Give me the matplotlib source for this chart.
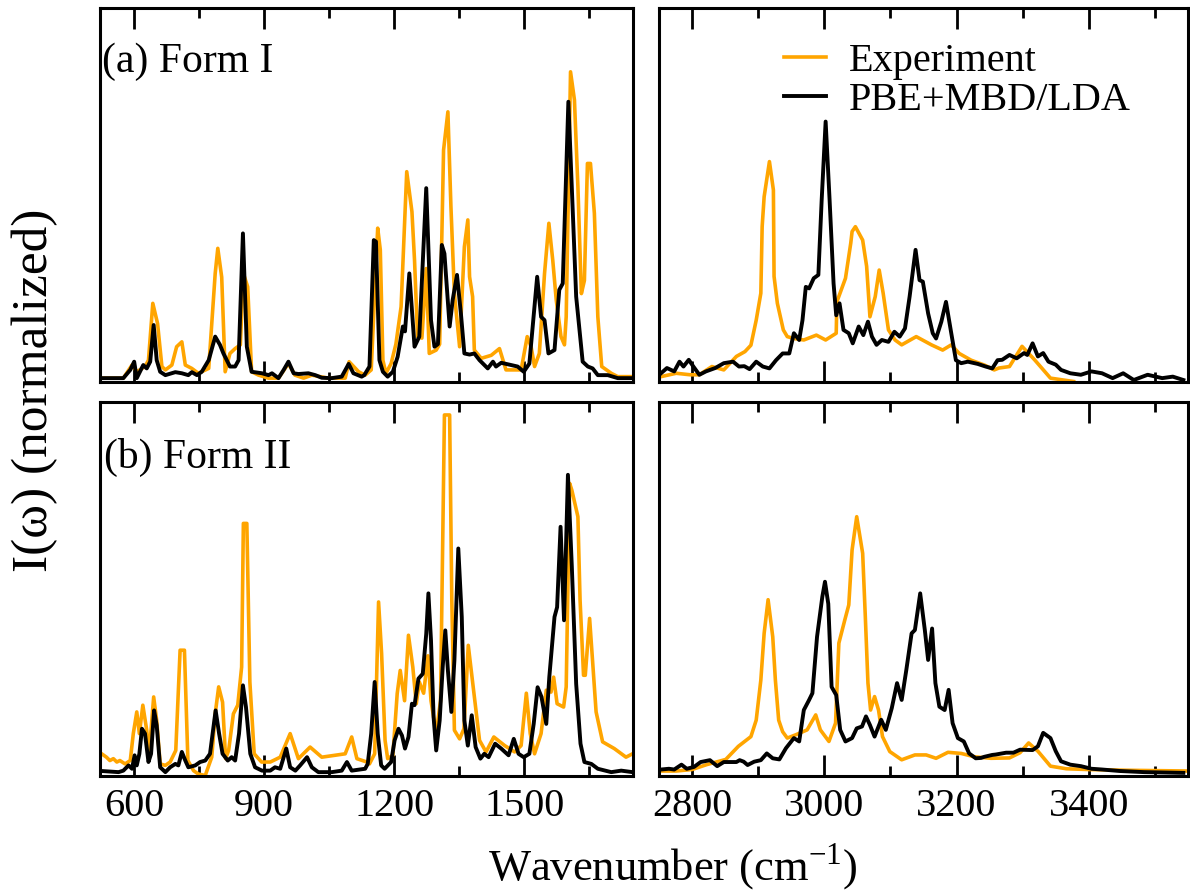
import matplotlib
matplotlib.use("Agg")
import matplotlib.pyplot as plt

plt.rcParams["font.family"] = ["Liberation Serif", "DejaVu Serif"]
plt.rcParams["mathtext.fontset"] = "custom"
plt.rcParams["mathtext.rm"] = "Liberation Serif"

ORANGE = "#FFA500"

# ---- (a) Form I, fingerprint region ----
a_lo_exp_wn = [525, 575, 595, 606, 625, 633, 643, 654, 664, 672, 687, 698, 710, 718, 733, 748, 772, 787, 793, 802,
               810, 821, 833, 845, 852, 862, 871, 887, 910, 933, 956, 971, 991, 1010, 1048, 1087, 1096, 1118, 1133, 1147,
               1162, 1168, 1174, 1181, 1193, 1204, 1216, 1229, 1241, 1247, 1254, 1264, 1274, 1281, 1297, 1305, 1314, 1324, 1331, 1339,
               1351, 1362, 1370, 1374, 1381, 1385, 1401, 1424, 1443, 1458, 1493, 1507, 1516, 1524, 1535, 1547, 1557, 1566, 1574, 1585,
               1593, 1597, 1607, 1616, 1624, 1632, 1639, 1646, 1653, 1662, 1670, 1679, 1701, 1716, 1747]
a_lo_exp = [.009, .009, .044, .026, .04, .057, .209, .155, .04, .031, .044, .093, .106, .044, .035, .022, .035, .289, .356, .279,
            .026, .075, .088, .098, .289, .253, .026, .017, .009, .009, .048, .017, .009, .017, .009, .009, .053, .026, .017, .031,
            .41, .352, .057, .022, .048, .10, .2, .561, .454, .324, .12, .116, .302, .075, .084, .10, .619, .721, .467, .235,
            .093, .36, .432, .28, .227, .084, .062, .07, .088, .031, .031, .12, .093, .04, .075, .289, .423, .324, .218, .12,
            .098, .173, .828, .753, .521, .235, .27, .583, .583, .45, .173, .04, .022, .013, .013]

a_lo_calc_wn = [521, 575, 591, 600, 606, 621, 629, 637, 645, 652, 660, 672, 695, 710, 725, 733, 745, 756, 772, 787,
                798, 806, 821, 833, 841, 851, 860, 871, 883, 895, 910, 918, 933, 945, 956, 968, 979, 1002, 1018, 1033,
                1056, 1079, 1095, 1106, 1125, 1131, 1143, 1153, 1158, 1166, 1174, 1185, 1197, 1208, 1220, 1225, 1235, 1247, 1258, 1274,
                1285, 1293, 1301, 1310, 1316, 1328, 1335, 1345, 1354, 1362, 1374, 1385, 1397, 1416, 1428, 1435, 1447, 1470, 1485, 1499,
                1512, 1530, 1539, 1547, 1556, 1570, 1581, 1589, 1602, 1612, 1620, 1635, 1647, 1658, 1670, 1693, 1716, 1747]
a_lo_calc = [.009, .009, .031, .053, .009, .044, .035, .053, .151, .057, .026, .017, .025, .022, .017, .025, .017, .026, .057, .12,
             .098, .075, .04, .04, .057, .396, .093, .026, .024, .022, .017, .022, .009, .031, .053, .022, .020, .022, .017, .010,
             .009, .013, .047, .022, .013, .017, .04, .378, .374, .057, .026, .013, .026, .066, .147, .134, .289, .093, .12, .517,
             .164, .093, .10, .365, .342, .147, .218, .285, .182, .075, .072, .075, .057, .035, .053, .04, .05, .044, .04, .026,
             .048, .28, .173, .164, .075, .084, .245, .262, .748, .459, .227, .053, .04, .035, .017, .017, .009, .009]

# ---- (a) Form I, C-H stretch region ----
a_hi_exp_wn = [2753, 2776, 2797, 2811, 2830, 2848, 2867, 2880, 2889, 2897, 2904, 2906, 2909, 2917, 2923, 2924, 2929, 2938, 2944, 2954,
               2969, 2988, 3002, 3018, 3019, 3032, 3040, 3042, 3047, 3058, 3064, 3069, 3077, 3083, 3089, 3097, 3107, 3117, 3139, 3162,
               3179, 3192, 3204, 3222, 3242, 3257, 3264, 3280, 3299, 3318, 3342, 3377]
a_hi_exp = [.013, .022, .018, .018, .04, .031, .067, .08, .097, .164, .236, .414, .494, .588, .512, .281, .209, .138, .12, .115,
            .111, .124, .111, .129, .213, .276, .37, .401, .414, .378, .308, .173, .227, .298, .236, .138, .111, .098, .12, .098,
            .084, .098, .075, .057, .044, .031, .036, .04, .094, .058, .009, .0]

a_hi_calc_wn = [2753, 2762, 2773, 2781, 2787, 2795, 2802, 2811, 2821, 2835, 2848, 2862, 2871, 2879, 2887, 2897, 2907, 2917, 2927, 2937,
                2947, 2954, 2962, 2967, 2972, 2977, 2984, 2991, 2996, 3002, 3008, 3014, 3018, 3023, 3029, 3037, 3043, 3052, 3059, 3066,
                3072, 3079, 3087, 3097, 3106, 3114, 3122, 3129, 3138, 3144, 3149, 3157, 3164, 3169, 3177, 3184, 3192, 3199, 3207, 3217,
                3232, 3244, 3254, 3262, 3269, 3280, 3291, 3302, 3307, 3315, 3323, 3331, 3339, 3350, 3358, 3372, 3388, 3404, 3420, 3436,
                3452, 3468, 3489, 3511, 3527, 3543]
a_hi_calc = [.022, .036, .027, .053, .04, .058, .04, .018, .027, .036, .049, .053, .04, .041, .033, .053, .04, .035, .057, .075,
             .075, .129, .111, .164, .253, .249, .276, .285, .485, .695, .485, .262, .177, .209, .138, .129, .102, .147, .124, .16,
             .12, .098, .111, .106, .133, .12, .142, .227, .352, .271, .267, .182, .129, .115, .16, .213, .129, .057, .049, .053,
             .047, .04, .035, .057, .058, .071, .062, .076, .071, .102, .067, .076, .053, .045, .031, .022, .018, .027, .022, .009,
             .022, .004, .018, .009, .013, .004]

# ---- (b) Form II, fingerprint region ----
b_lo_exp_wn = [525, 536, 544, 552, 560, 567, 579, 591, 598, 606, 612, 620, 629, 634, 645, 652, 660, 672, 683, 696,
               706, 716, 724, 737, 748, 764, 779, 787, 795, 804, 811, 818, 829, 839, 848, 852, 860, 867, 877, 894,
               914, 937, 960, 979, 1006, 1033, 1087, 1102, 1114, 1137, 1143, 1155, 1164, 1171, 1179, 1185, 1197, 1207, 1214, 1224,
               1233, 1243, 1251, 1258, 1268, 1278, 1285, 1297, 1307, 1316, 1328, 1333, 1339, 1351, 1361, 1371, 1381, 1397, 1412, 1430,
               1455, 1478, 1493, 1505, 1514, 1524, 1539, 1551, 1562, 1568, 1576, 1591, 1597, 1605, 1610, 1624, 1629, 1637, 1641, 1651,
               1658, 1666, 1681, 1708, 1735, 1750]
b_lo_exp = [.058, .049, .04, .045, .036, .04, .031, .04, .112, .17, .112, .188, .121, .049, .21, .147, .031, .027, .036, .067,
            .335, .335, .04, .013, .004, .0, .049, .165, .237, .196, .045, .067, .165, .188, .29, .674, .674, .25, .058, .036,
            .036, .049, .112, .045, .076, .049, .058, .103, .045, .036, .031, .058, .464, .326, .094, .045, .054, .219, .281, .2,
            .375, .29, .192, .25, .22, .32, .2, .112, .2, .964, .964, .469, .121, .098, .125, .348, .25, .094, .063, .103,
            .08, .063, .08, .22, .112, .058, .112, .228, .223, .263, .192, .183, .237, .781, .763, .692, .469, .268, .268, .42,
            .304, .17, .09, .072, .049, .058]

b_lo_calc_wn = [525, 564, 575, 587, 595, 601, 606, 612, 618, 625, 633, 639, 646, 652, 660, 672, 683, 695, 702, 710,
                718, 725, 741, 752, 764, 775, 788, 796, 804, 816, 825, 833, 842, 851, 858, 868, 879, 895, 914, 925,
                937, 951, 960, 972, 983, 999, 1010, 1025, 1056, 1079, 1091, 1102, 1133, 1139, 1147, 1155, 1162, 1170, 1178, 1193,
                1201, 1210, 1218, 1225, 1233, 1241, 1247, 1256, 1266, 1274, 1279, 1285, 1291, 1297, 1305, 1312, 1318, 1324, 1332, 1339,
                1348, 1356, 1362, 1370, 1379, 1388, 1399, 1408, 1418, 1433, 1447, 1464, 1476, 1487, 1499, 1512, 1522, 1531, 1540, 1551,
                1558, 1570, 1576, 1584, 1592, 1601, 1610, 1620, 1630, 1639, 1655, 1670, 1701, 1724, 1750]
b_lo_calc = [.012, .009, .013, .027, .018, .054, .027, .058, .125, .112, .036, .058, .174, .134, .022, .009, .022, .031, .027, .063,
             .04, .022, .027, .036, .04, .058, .174, .112, .058, .04, .049, .04, .112, .241, .183, .058, .022, .013, .013, .022,
             .018, .072, .022, .013, .027, .049, .022, .009, .009, .013, .036, .013, .018, .031, .112, .25, .112, .027, .018, .036,
             .094, .125, .107, .072, .103, .192, .188, .259, .272, .379, .487, .361, .156, .067, .147, .29, .388, .281, .17, .308,
             .607, .424, .147, .08, .161, .076, .045, .058, .049, .085, .072, .054, .098, .058, .049, .058, .138, .236, .21, .138,
             .263, .424, .45, .665, .415, .804, .558, .245, .085, .036, .031, .018, .009, .013, .009]

# ---- (b) Form II, C-H stretch region ----
b_hi_exp_wn = [2753, 2776, 2800, 2822, 2851, 2870, 2889, 2897, 2904, 2909, 2915, 2922, 2926, 2931, 2937, 2944, 2957, 2974, 2987, 2994,
               3007, 3017, 3022, 3031, 3037, 3042, 3049, 3058, 3062, 3066, 3070, 3076, 3082, 3088, 3099, 3117, 3137, 3154, 3169, 3187,
               3207, 3227, 3252, 3280, 3296, 3309, 3323, 3342, 3366, 3398, 3457, 3550]
b_hi_exp = [.012, .012, .016, .029, .043, .078, .104, .148, .255, .38, .47, .371, .255, .148, .117, .1, .109, .122, .162, .122,
            .091, .14, .354, .416, .456, .603, .692, .594, .425, .247, .175, .211, .175, .104, .064, .042, .055, .055, .046, .062,
            .059, .05, .046, .047, .061, .087, .065, .025, .018, .016, .014, .012]

b_hi_calc_wn = [2753, 2765, 2773, 2784, 2792, 2803, 2813, 2827, 2838, 2848, 2867, 2872, 2878, 2884, 2894, 2904, 2913, 2922, 2932, 2942,
                2954, 2962, 2969, 2977, 2982, 2989, 2997, 3001, 3006, 3011, 3018, 3024, 3032, 3042, 3049, 3057, 3063, 3069, 3076, 3086,
                3093, 3102, 3110, 3117, 3124, 3132, 3137, 3145, 3152, 3157, 3163, 3168, 3174, 3182, 3188, 3194, 3202, 3211, 3219, 3229,
                3237, 3242, 3254, 3259, 3275, 3286, 3296, 3315, 3323, 3331, 3342, 3350, 3358, 3372, 3388, 3404, 3420, 3447, 3484, 3543]
b_hi_calc = [.016, .018, .016, .029, .018, .023, .036, .041, .025, .036, .036, .041, .037, .028, .037, .041, .059, .046, .043, .073,
             .1, .091, .175, .202, .22, .371, .478, .518, .459, .237, .215, .122, .091, .1, .126, .131, .158, .135, .104, .149,
             .122, .18, .247, .202, .282, .38, .389, .487, .389, .309, .393, .247, .184, .175, .229, .14, .1, .091, .059, .046,
             .047, .05, .055, .056, .061, .061, .069, .068, .078, .114, .1, .065, .038, .029, .025, .018, .016, .012, .009, .007]

lo_xlim = (520, 1750)
hi_xlim = (2750, 3550)
panel_labels = ["(a) Form I", "(b) Form II"]
legend_labels = ["Experiment", "PBE+MBD/LDA"]


def style_axis(ax, xlim, major, minor, show_labels):
    ax.set_xlim(*xlim)
    ax.set_ylim(0, 1)
    ax.set_yticks([])
    ax.xaxis.set_major_locator(plt.MultipleLocator(major))
    ax.xaxis.set_minor_locator(plt.MultipleLocator(minor))
    ax.tick_params(axis="x", which="both", direction="in", top=True, bottom=True,
                   width=2, labelsize=29, pad=9, labelbottom=show_labels)
    ax.tick_params(axis="x", which="major", length=15)
    ax.tick_params(axis="x", which="minor", length=7)
    for sp in ax.spines.values():
        sp.set_linewidth(2.2)


fig = plt.figure(figsize=(11.9, 8.94), dpi=100)
lx, lw = 99.5 / 1190, 533 / 1190
rx, rw = 659 / 1190, 529 / 1190
ty, th = 1 - 381.5 / 894, 374 / 894
by, bh = 1 - 775.5 / 894, 374 / 894

ax_a_lo = fig.add_axes([lx, ty, lw, th])
ax_a_hi = fig.add_axes([rx, ty, rw, th])
ax_b_lo = fig.add_axes([lx, by, lw, bh])
ax_b_hi = fig.add_axes([rx, by, rw, bh])

panels = [
    (ax_a_lo, a_lo_exp_wn, a_lo_exp, a_lo_calc_wn, a_lo_calc),
    (ax_a_hi, a_hi_exp_wn, a_hi_exp, a_hi_calc_wn, a_hi_calc),
    (ax_b_lo, b_lo_exp_wn, b_lo_exp, b_lo_calc_wn, b_lo_calc),
    (ax_b_hi, b_hi_exp_wn, b_hi_exp, b_hi_calc_wn, b_hi_calc),
]
for ax, ewn, ev, cwn, cv in panels:
    ax.plot(ewn, ev, color=ORANGE, lw=2.6, label=legend_labels[0])
    ax.plot(cwn, cv, color="black", lw=2.8, label=legend_labels[1])

style_axis(ax_a_lo, lo_xlim, 300, 150, False)
style_axis(ax_b_lo, lo_xlim, 300, 150, True)
style_axis(ax_a_hi, hi_xlim, 200, 100, False)
style_axis(ax_b_hi, hi_xlim, 200, 100, True)

ax_a_lo.text(0.004, 0.828, panel_labels[0], transform=ax_a_lo.transAxes, fontsize=30, va="baseline")
ax_b_lo.text(0.008, 0.823, panel_labels[1], transform=ax_b_lo.transAxes, fontsize=30, va="baseline")

ax_a_hi.legend(loc="upper left", bbox_to_anchor=(0.2355, 0.905), frameon=False, fontsize=29,
               borderpad=0, borderaxespad=0, handlelength=1.05, handletextpad=0.56, labelspacing=0.05)

fig.text(673 / 1190, 1 - 881 / 894, r"Wavenumber (cm$^{\mathrm{-1}}$)", fontsize=32,
         ha="center", va="baseline")
fig.text(35 / 1190, 1 - 390 / 894, "I(ω) (normalized)", fontsize=37, rotation=90,
         ha="center", va="center")

fig.savefig("out.png", dpi=100)
